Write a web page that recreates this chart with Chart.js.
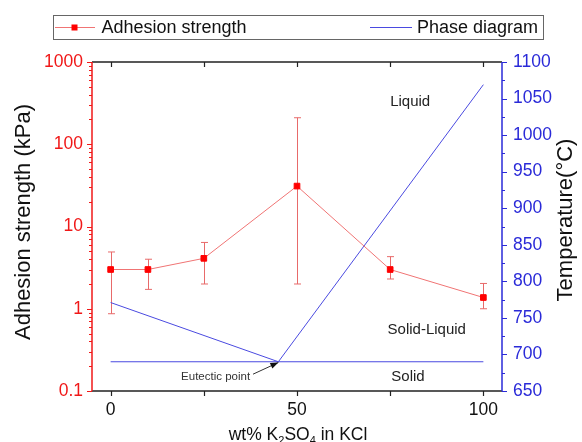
<!DOCTYPE html>
<html><head><meta charset="utf-8">
<script src="https://cdn.jsdelivr.net/npm/chart.js@4"></script>
<style>html,body{margin:0;padding:0;background:#fff}</style>
</head><body>
<canvas id="c" width="582" height="442" style="width:582px;height:442px;display:block"></canvas>
<script>
// ---- data ----
const wtPct = [0, 10, 25, 50, 75, 100];
const adhesion = [3.0, 3.0, 4.1, 31, 3.0, 1.37];
const adhesionErrLow = [0.87, 1.72, 2.0, 2.0, 2.3, 1.0];
const adhesionErrHigh = [4.9, 4.0, 6.4, 210, 4.3, 2.03];
const liquidusX = [0, 45, 100];
const liquidusT = [771, 690, 1069];
const solidusX = [0, 100];
const solidusT = [690, 690];
const xTicks = [0, 50, 100];
const xTickMarks = [0, 25, 50, 75, 100];
const yTicks = [0.1, 1, 10, 100, 1000];
const y2Ticks = [650, 700, 750, 800, 850, 900, 950, 1000, 1050, 1100];
const regionLabels = ['Liquid', 'Solid-Liquid', 'Solid'];
const regionLabelX = [75, 74.3, 75.3];
const regionLabelT = [1046, 733, 670];
const eutecticLabel = 'Eutectic point';

const FONT = "'Liberation Sans', Arial, sans-serif";
const RED = '#f01818', BLUE = '#2a2ad8', PHASE = '#4a4ae0';
Chart.defaults.font.family = FONT;

const decor = {
  id: 'decor',
  beforeDatasetsDraw(chart) {
    const ctx = chart.ctx, x = chart.scales.x, y = chart.scales.y;
    ctx.save();
    ctx.strokeStyle = '#e86a6a'; ctx.lineWidth = 1;
    wtPct.forEach((v, i) => {
      const px = Math.round(x.getPixelForValue(v)) + 0.5;
      const top = y.getPixelForValue(adhesionErrHigh[i]);
      const bot = y.getPixelForValue(adhesionErrLow[i]);
      ctx.beginPath();
      ctx.moveTo(px, top); ctx.lineTo(px, bot);
      ctx.moveTo(px - 3.5, top); ctx.lineTo(px + 3.5, top);
      ctx.moveTo(px - 3.5, bot); ctx.lineTo(px + 3.5, bot);
      ctx.stroke();
    });
    ctx.restore();
  },
  afterDraw(chart) {
    const ctx = chart.ctx, a = chart.chartArea;
    const x = chart.scales.x, y = chart.scales.y, y2 = chart.scales.y2;
    ctx.save();
    // frame
    ctx.lineWidth = 1.5;
    ctx.strokeStyle = '#222';
    ctx.beginPath(); ctx.moveTo(a.left, a.top); ctx.lineTo(a.right, a.top);
    ctx.moveTo(a.left, a.bottom); ctx.lineTo(a.right, a.bottom); ctx.stroke();
    ctx.strokeStyle = RED;
    ctx.beginPath(); ctx.moveTo(a.left, a.top); ctx.lineTo(a.left, a.bottom); ctx.stroke();
    ctx.strokeStyle = BLUE;
    ctx.beginPath(); ctx.moveTo(a.right, a.top); ctx.lineTo(a.right, a.bottom); ctx.stroke();
    // tick marks
    ctx.lineWidth = 1.2;
    ctx.strokeStyle = '#222';
    ctx.beginPath();
    xTickMarks.forEach(v => {
      const px = Math.round(x.getPixelForValue(v)) + 0.5;
      ctx.moveTo(px, a.bottom); ctx.lineTo(px, a.bottom + 5);
      ctx.moveTo(px, a.top); ctx.lineTo(px, a.top + 5);
    });
    ctx.stroke();
    ctx.strokeStyle = RED;
    ctx.beginPath();
    for (let d = -1; d <= 3; d++) {
      for (let m = 1; m <= 9; m++) {
        const v = m * Math.pow(10, d);
        if (v > 1000.0001) continue;
        const py = Math.round(y.getPixelForValue(v)) + 0.5;
        const len = m === 1 ? 5 : 3;
        ctx.moveTo(a.left, py); ctx.lineTo(a.left - len, py);
      }
    }
    ctx.stroke();
    ctx.strokeStyle = BLUE;
    ctx.beginPath();
    for (let t = 650; t <= 1100; t += 25) {
      const py = Math.round(y2.getPixelForValue(t)) + 0.5;
      const len = t % 50 === 0 ? 5 : 3;
      ctx.moveTo(a.right, py); ctx.lineTo(a.right + len, py);
    }
    ctx.stroke();

    // axis titles
    ctx.fillStyle = '#111';
    ctx.textAlign = 'center'; ctx.textBaseline = 'middle';
    ctx.font = '22px ' + FONT;
    ctx.save(); ctx.translate(24, 222); ctx.rotate(-Math.PI / 2);
    ctx.fillText('Adhesion strength (kPa)', 0, 0); ctx.restore();
    ctx.save(); ctx.translate(566, 220); ctx.rotate(-Math.PI / 2);
    ctx.fillText('Temperature(°C)', 0, 0); ctx.restore();
    // bottom title with subscripts
    const parts = [['wt% K', 0], ['2', 1], ['SO', 0], ['4', 1], [' in KCl', 0]];
    const big = '17.5px ' + FONT, small = '11px ' + FONT;
    let w = 0;
    parts.forEach(p => { ctx.font = p[1] ? small : big; w += ctx.measureText(p[0]).width; });
    let cx = (a.left + a.right) / 2 - w / 2 + 1;
    ctx.textAlign = 'left'; ctx.textBaseline = 'alphabetic';
    parts.forEach(p => {
      ctx.font = p[1] ? small : big;
      ctx.fillText(p[0], cx, 439.5 + (p[1] ? 4 : 0));
      cx += ctx.measureText(p[0]).width;
    });

    // region labels
    ctx.font = '15px ' + FONT; ctx.fillStyle = '#222';
    ctx.textAlign = 'left'; ctx.textBaseline = 'middle';
    regionLabels.forEach((s, i) => {
      ctx.fillText(s, x.getPixelForValue(regionLabelX[i]), y2.getPixelForValue(regionLabelT[i]));
    });
    // eutectic annotation
    ctx.font = '11.5px ' + FONT; ctx.fillStyle = '#333';
    ctx.fillText(eutecticLabel, x.getPixelForValue(18.9), y2.getPixelForValue(670));
    const tx = x.getPixelForValue(38.2), ty = y2.getPixelForValue(673);
    const hx = x.getPixelForValue(45.0), hy = y2.getPixelForValue(689);
    ctx.strokeStyle = '#333'; ctx.lineWidth = 1;
    ctx.beginPath(); ctx.moveTo(tx, ty); ctx.lineTo(hx, hy); ctx.stroke();
    const ang = Math.atan2(hy - ty, hx - tx);
    ctx.fillStyle = '#111';
    ctx.beginPath();
    ctx.moveTo(hx, hy);
    ctx.lineTo(hx - 8 * Math.cos(ang) + 3 * Math.sin(ang), hy - 8 * Math.sin(ang) - 3 * Math.cos(ang));
    ctx.lineTo(hx - 8 * Math.cos(ang) - 3 * Math.sin(ang), hy - 8 * Math.sin(ang) + 3 * Math.cos(ang));
    ctx.closePath(); ctx.fill();

    // legend
    ctx.strokeStyle = '#666'; ctx.lineWidth = 1;
    ctx.strokeRect(53.5, 15.5, 490, 24);
    ctx.strokeStyle = '#f07474'; ctx.lineWidth = 1;
    ctx.beginPath(); ctx.moveTo(55, 27.5); ctx.lineTo(95, 27.5); ctx.stroke();
    ctx.fillStyle = '#ff0000'; ctx.fillRect(71.5, 24.5, 6, 6);
    ctx.strokeStyle = PHASE;
    ctx.beginPath(); ctx.moveTo(370, 27.5); ctx.lineTo(412, 27.5); ctx.stroke();
    ctx.fillStyle = '#111'; ctx.font = '18px ' + FONT;
    ctx.textAlign = 'left'; ctx.textBaseline = 'middle';
    ctx.fillText('Adhesion strength', 101.5, 28);
    ctx.fillText('Phase diagram', 417, 28);
    ctx.restore();
  }
};

new Chart(document.getElementById('c'), {
  type: 'line',
  data: {
    datasets: [
      {
        label: 'Adhesion strength',
        data: wtPct.map((v, i) => ({ x: v, y: adhesion[i] })),
        yAxisID: 'y',
        borderColor: '#f07474', borderWidth: 1,
        pointStyle: 'rect', pointRadius: 4,
        pointBackgroundColor: '#ff0000', pointBorderColor: '#ff0000', pointBorderWidth: 1,
        tension: 0
      },
      {
        label: 'Phase diagram',
        data: liquidusX.map((v, i) => ({ x: v, y: liquidusT[i] })),
        yAxisID: 'y2',
        borderColor: PHASE, borderWidth: 1, pointRadius: 0, tension: 0
      },
      {
        label: 'Solidus',
        data: solidusX.map((v, i) => ({ x: v, y: solidusT[i] })),
        yAxisID: 'y2',
        borderColor: PHASE, borderWidth: 1, pointRadius: 0, tension: 0
      }
    ]
  },
  options: {
    responsive: false,
    animation: false,
    layout: { padding: { top: 62, left: 0, right: 0, bottom: 0 } },
    plugins: { legend: { display: false }, tooltip: { enabled: false } },
    scales: {
      x: {
        type: 'linear', min: -5, max: 105,
        afterBuildTicks: s => { s.ticks = xTicks.map(v => ({ value: v })); },
        afterFit: s => { s.height = 51; },
        grid: { display: false, drawTicks: false },
        border: { display: false },
        ticks: { color: '#111', font: { size: 17.5 }, padding: 9, maxRotation: 0, autoSkip: false }
      },
      y: {
        type: 'logarithmic', position: 'left', min: 0.1, max: 1000,
        afterBuildTicks: s => { s.ticks = yTicks.map(v => ({ value: v })); },
        afterFit: s => { s.width = 92; },
        grid: { display: false, drawTicks: false },
        border: { display: false },
        ticks: { color: RED, font: { size: 17.5 }, padding: 9, autoSkip: false,
                 callback: v => String(v) }
      },
      y2: {
        type: 'linear', position: 'right', min: 650, max: 1100,
        afterBuildTicks: s => { s.ticks = y2Ticks.map(v => ({ value: v })); },
        afterFit: s => { s.width = 80; },
        grid: { display: false, drawTicks: false },
        border: { display: false },
        ticks: { color: BLUE, font: { size: 17.5 }, padding: 11, autoSkip: false,
                 callback: v => String(v) }
      }
    }
  },
  plugins: [decor]
});
</script>
</body></html>
